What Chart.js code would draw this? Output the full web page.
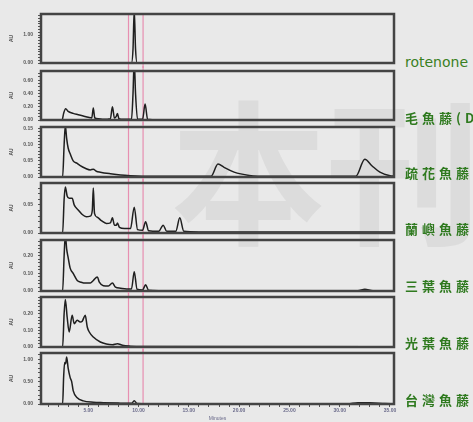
<!DOCTYPE html>
<html>
<head>
<meta charset="utf-8">
<script src="https://cdn.jsdelivr.net/npm/chart.js@4.4.1/dist/chart.umd.min.js"></script>
<style>
  html, body { margin: 0; padding: 0; background: #e9e9e9; width: 473px; height: 422px; overflow: hidden; position: relative; }
  canvas { position: absolute; left: 0; }
  .lab { position: absolute; left: 405px; color: #2f7a1f; white-space: nowrap; line-height: 1; }
  .zh { font: 700 13px "Noto Sans CJK TC"; letter-spacing: 4px; }
  .en { font: 14px "DejaVu Sans"; color: #3a801f; }
  #wm { position: absolute; left: 171px; top: 87px; font: 700 155px "Noto Sans CJK SC"; color: rgba(110,110,110,0.10);
        white-space: nowrap; pointer-events: none; line-height: 1; }
</style>
</head>
<body>
<div id="wm">本刊</div>
<script>
// ---------- DATA ----------
const names = ["rotenone", "毛魚藤(Derris elliptica)", "疏花魚藤", "蘭嶼魚藤", "三葉魚藤", "光葉魚藤", "台灣魚藤"];

// retention time (min) / absorbance (AU)
const rotenoneT = [0.3, 2.4, 2.6, 9.3, 9.45, 9.57, 9.7, 9.85, 30.3];
const rotenoneV = [0, 0, 0.01, 0.01, 0.5, 1.9, 0.5, 0.01, 0];

const ellipticaT = [0.3, 2.4, 2.55, 2.75, 3.0, 3.5, 4.0, 4.5, 5.0, 5.35, 5.5, 5.65, 6.0, 6.5, 7.2, 7.4, 7.6, 7.8, 7.9, 8.05, 8.5, 9.3, 9.45, 9.57, 9.7, 9.9, 10.4, 10.65, 10.9, 12, 35.4];
const ellipticaV = [0, 0, 0.1, 0.17, 0.13, 0.1, 0.08, 0.06, 0.04, 0.03, 0.18, 0.03, 0.02, 0.01, 0.02, 0.2, 0.03, 0.06, 0.1, 0.02, 0.01, 0.01, 0.4, 0.9, 0.4, 0.01, 0.01, 0.24, 0.01, 0, 0];

const laxifloraT = [0.3, 2.45, 2.6, 2.72, 2.85, 3.0, 3.2, 3.5, 3.9, 4.2, 4.7, 5.2, 5.5, 5.8, 6.2, 7.2, 8.2, 9.2, 11.2, 14, 17.2, 17.9, 18.5, 19.5, 21, 23, 31.6, 32.5, 33.2, 34, 35, 35.4];
const laxifloraV = [0, 0, 0.1, 0.16, 0.12, 0.09, 0.072, 0.05, 0.042, 0.035, 0.027, 0.022, 0.024, 0.018, 0.015, 0.01, 0.006, 0.004, 0.002, 0.002, 0.002, 0.04, 0.03, 0.015, 0.005, 0.002, 0.002, 0.055, 0.035, 0.015, 0.004, 0.003];

const lanyuT = [0.3, 2.45, 2.6, 2.72, 2.9, 3.1, 3.4, 3.6, 4.0, 4.4, 4.8, 5.2, 5.4, 5.5, 5.62, 5.9, 6.3, 6.8, 7.2, 7.4, 7.6, 7.8, 7.9, 8.1, 8.6, 9.2, 9.57, 9.9, 10.4, 10.7, 11.0, 12.0, 12.45, 12.8, 13.7, 14.1, 14.5, 16, 35.4];
const lanyuV = [0, 0, 0.06, 0.082, 0.066, 0.062, 0.062, 0.05, 0.041, 0.033, 0.029, 0.03, 0.04, 0.08, 0.035, 0.028, 0.022, 0.017, 0.018, 0.027, 0.014, 0.014, 0.018, 0.01, 0.008, 0.008, 0.046, 0.006, 0.005, 0.02, 0.004, 0.003, 0.014, 0.003, 0.003, 0.027, 0.003, 0.002, 0.002];

const trifoliataT = [0.3, 2.45, 2.6, 2.72, 2.85, 3.0, 3.2, 3.5, 3.9, 4.3, 4.7, 5.2, 5.5, 5.9, 6.1, 6.5, 7.0, 7.4, 7.7, 8.2, 8.8, 9.3, 9.57, 9.85, 10.4, 10.7, 11.0, 12, 31.8, 32.5, 33.3, 35.4];
const trifoliataV = [0, 0, 0.2, 0.32, 0.24, 0.19, 0.13, 0.1, 0.06, 0.05, 0.045, 0.045, 0.06, 0.08, 0.05, 0.03, 0.028, 0.045, 0.022, 0.016, 0.012, 0.012, 0.11, 0.01, 0.006, 0.035, 0.004, 0.002, 0.002, 0.01, 0.002, 0.002];

const nitidaT = [0.3, 2.45, 2.6, 2.72, 2.9, 3.1, 3.4, 3.6, 3.9, 4.2, 4.4, 4.7, 4.9, 5.1, 5.5, 6.2, 6.8, 7.4, 7.9, 8.4, 9.2, 10.5, 35.4];
const nitidaV = [0, 0, 0.2, 0.285, 0.18, 0.09, 0.19, 0.14, 0.16, 0.15, 0.155, 0.19, 0.12, 0.09, 0.06, 0.03, 0.018, 0.014, 0.02, 0.01, 0.005, 0.003, 0.002];

const taiwanT = [0.3, 2.45, 2.55, 2.65, 2.75, 2.85, 3.0, 3.2, 3.35, 3.5, 3.9, 4.5, 5.5, 6.5, 8, 9.3, 9.57, 9.85, 11, 14, 30.8, 31.8, 33, 34.5, 35.4];
const taiwanV = [0, 0, 0.6, 0.93, 0.9, 1.05, 0.8, 0.59, 0.5, 0.3, 0.14, 0.07, 0.04, 0.03, 0.02, 0.015, 0.07, 0.012, 0.008, 0.005, 0.005, 0.03, 0.03, 0.01, 0.005];

const series = [
  [rotenoneT, rotenoneV], [ellipticaT, ellipticaV], [laxifloraT, laxifloraV], [lanyuT, lanyuV],
  [trifoliataT, trifoliataV], [nitidaT, nitidaV], [taiwanT, taiwanV]
];

// y axes
const yMax = [1.75, 0.74, 0.155, 0.089, 0.29, 0.30, 1.14];
const yLabels = [[0, 1], [0, 0.2, 0.4, 0.6], [0, 0.05, 0.1, 0.15], [0, 0.05], [0, 0.1, 0.2], [0, 0.1, 0.2], [0, 0.5, 1]];
const yMinor = [0.1, 0.05, 0.01, 0.01, 0.02, 0.02, 0.1];

// x axis
const xMin = 0.3, xMax = 35.4;
const xLabels = [5, 10, 15, 20, 25, 30, 35];
const markTimes = [9.0, 10.45];

// ---------- LAYOUT ----------
const panelTop = [14, 71, 127, 183, 240, 297, 353];
const panelBottom = [63, 120, 177, 233, 291, 347, 404];
const labelY = [62, 117, 172, 228, 285, 342, 399];
const PAD = 5, XAXIS_H = 18;

// ---------- HELPERS ----------
function minorTicks(max, step) {
  const out = [];
  for (let i = 0; i * step <= max + 1e-9; i++) out.push(+(i * step).toFixed(4));
  return out;
}

const framePlugin = {
  id: "frame",
  beforeDatasetsDraw(chart, args, opts) {
    const { ctx, chartArea: a, scales: { x } } = chart;
    const y0 = opts.first ? a.top : 0;
    const y1 = opts.last ? a.bottom : chart.height;
    ctx.save();
    ctx.strokeStyle = "#e78fb1";
    ctx.lineWidth = 1.2;
    const px = markTimes.map((t) => x.getPixelForValue(t));
    px.forEach((p) => {
      ctx.beginPath(); ctx.moveTo(p, y0); ctx.lineTo(p, y1); ctx.stroke();
    });
    if (opts.first) {
      ctx.beginPath(); ctx.moveTo(px[0], y0); ctx.lineTo(px[1], y0); ctx.stroke();
    }
    ctx.restore();
  },
  afterDatasetsDraw(chart) {
    const { ctx, chartArea: a } = chart;
    ctx.save();
    ctx.strokeStyle = "#444";
    ctx.lineWidth = 2.5;
    ctx.strokeRect(a.left, a.top, a.right - a.left, a.bottom - a.top);
    ctx.restore();
  },
};

// ---------- PANELS ----------
series.forEach(([times, values], i) => {
  const last = i === series.length - 1;
  const cv = document.createElement("canvas");
  const h = panelBottom[i] - panelTop[i] + PAD + (last ? XAXIS_H : PAD);
  cv.width = 400;
  cv.height = h;
  cv.style.top = panelTop[i] - PAD + "px";
  document.body.appendChild(cv);

  const ticksY = minorTicks(yMax[i], yMinor[i]);

  new Chart(cv, {
    type: "line",
    data: {
      datasets: [{
        data: times.map((t, k) => ({ x: t, y: values[k] })),
        borderColor: "#1f1f1f",
        borderWidth: 1.5,
        pointRadius: 0,
        cubicInterpolationMode: "monotone",
      }],
    },
    options: {
      responsive: false,
      animation: false,
      events: [],
      layout: { padding: { top: PAD, bottom: last ? 0 : PAD, left: 0, right: 6 } },
      plugins: { legend: { display: false }, tooltip: { enabled: false }, frame: { first: i === 0, last } },
      scales: {
        x: {
          type: "linear",
          min: xMin,
          max: xMax,
          display: last,
          afterBuildTicks: (s) => {
            const t = [];
            for (let m = 1; m <= 35; m++) t.push({ value: m });
            s.ticks = t;
          },
          afterFit: (s) => { if (last) s.height = XAXIS_H; },
          grid: { drawOnChartArea: false, drawTicks: true, tickLength: 3, color: "#555", lineWidth: 1 },
          border: { display: false },
          ticks: {
            autoSkip: false,
            maxRotation: 0,
            padding: 1,
            color: "#6a6a8a",
            font: { size: 5, family: "Liberation Sans", weight: "bold" },
            callback: (v) => (xLabels.includes(v) ? v.toFixed(2) : ""),
          },
          title: { display: true, text: "Minutes", color: "#6a6a8a", font: { size: 5, family: "Liberation Sans" }, padding: 0 },
        },
        y: {
          type: "linear",
          min: 0,
          max: yMax[i],
          afterBuildTicks: (s) => { s.ticks = ticksY.map((v) => ({ value: v })); },
          afterFit: (s) => {
            s.width = 41;
            s.paddingTop = 0;
            s.paddingBottom = 0;
          },
          grid: { drawOnChartArea: false, drawTicks: true, tickLength: 3, color: "#555", lineWidth: 1 },
          border: { display: false },
          ticks: {
            autoSkip: false,
            padding: 5,
            color: "#555",
            font: { size: 5, family: "Liberation Sans", weight: "bold" },
            callback: (v) => (yLabels[i].some((l) => Math.abs(l - v) < 1e-6) ? v.toFixed(2) : ""),
          },
          title: { display: true, text: "AU", color: "#555", font: { size: 5, family: "Liberation Sans", weight: "bold" }, padding: { top: 9, bottom: 0 } },
        },
      },
    },
    plugins: [framePlugin],
  });

  const lab = document.createElement("div");
  lab.className = "lab " + (i === 0 ? "en" : "zh");
  lab.textContent = names[i];
  document.body.appendChild(lab);
  lab.style.top = labelY[i] - lab.offsetHeight / 2 + "px";
});
</script>
</body>
</html>
